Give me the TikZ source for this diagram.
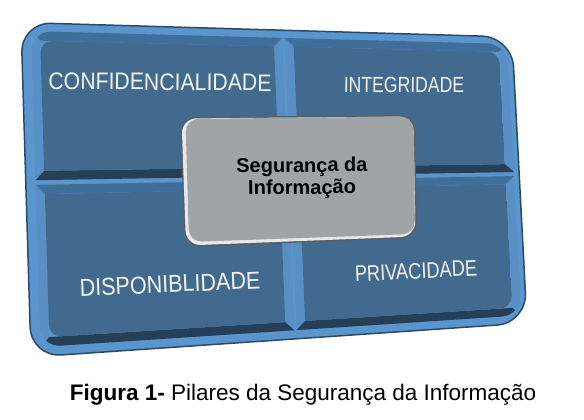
\documentclass[tikz,border=0pt]{standalone}
\usepackage{fontspec}
\setmainfont{Liberation Sans}
\usetikzlibrary{calc}

\definecolor{rimblue}{HTML}{5A95CD}
\definecolor{rimline}{HTML}{2C4A67}
\definecolor{faceblue}{HTML}{426A8F}
\definecolor{bevtop}{HTML}{3F6E9B}
\definecolor{bevside}{HTML}{5890C6}
\definecolor{bevbot}{HTML}{263F57}
\definecolor{boxgray}{HTML}{A0A4A7}
\definecolor{boxline}{HTML}{5B5E60}
\definecolor{boxlight}{HTML}{E6E8E9}

\begin{document}
\begin{tikzpicture}[x=1pt, y=-1pt,
    pillar/.style={text=white!95!black, inner sep=0pt,
                   font=\fontsize{#1}{#1}\selectfont},
    frameshape/.style={rounded corners=30}
  ]
  \useasboundingbox (0,0) rectangle (584,420);

  % corners of the tilted board
  \coordinate (TL) at (21,22.5);
  \coordinate (TR) at (512,37);
  \coordinate (BR) at (527,323);
  \coordinate (BL) at (31,357);

  % grid of tile and bevel corners
  \foreach \u [count=\i] in {0.02,0.038,0.514,0.532,0.536,0.554,0.972,0.99}
    \foreach \v [count=\j] in {0.025,0.053,0.444,0.472,0.486,0.514,0.944,0.972}
      \coordinate (g-\i-\j) at ($($(TL)!\u!(TR)$)!\v!($(BL)!\u!(BR)$)$);

  % shadow and rim
  \fill[black!7, frameshape, shift={(4,9)}] (TL) -- (TR) -- (BR) -- (BL) -- cycle;
  \fill[black!14, frameshape, shift={(2,5)}] (TL) -- (TR) -- (BR) -- (BL) -- cycle;
  \filldraw[fill=rimblue, draw=rimline, line width=1.5pt, frameshape]
    (TL) -- (TR) -- (BR) -- (BL) -- cycle;

  % the four tiles
  \begin{scope}
    \clip[rounded corners=20] (g-1-1) -- (g-8-1) -- (g-8-8) -- (g-1-8) -- cycle;
    \foreach \i/\ia/\ib/\ic in {1/2/3/4,5/6/7/8}
      \foreach \j/\ja/\jb/\jc in {1/2/3/4,5/6/7/8} {
        \fill[bevtop]  (g-\i-\j) -- (g-\ic-\j) -- (g-\ib-\ja) -- (g-\ia-\ja) -- cycle;
        \fill[bevside] (g-\i-\j) -- (g-\ia-\ja) -- (g-\ia-\jb) -- (g-\i-\jc) -- cycle;
        \fill[bevside] (g-\ic-\j) -- (g-\ic-\jc) -- (g-\ib-\jb) -- (g-\ib-\ja) -- cycle;
        \fill[bevbot]  (g-\i-\jc) -- (g-\ia-\jb) -- (g-\ib-\jb) -- (g-\ic-\jc) -- cycle;
      }
    \clip[rounded corners=12] (g-2-2) -- (g-7-2) -- (g-7-7) -- (g-2-7) -- cycle;
    \foreach \ia/\ib in {2/3,6/7}
      \foreach \ja/\jb in {2/3,6/7}
        \fill[faceblue] (g-\ia-\ja) -- (g-\ib-\ja) -- (g-\ib-\jb) -- (g-\ia-\jb) -- cycle;
  \end{scope}

  \node[pillar=24, rotate=-0.5, xscale=0.885] (conf) at (160,82) {CONFIDENCIALIDADE};
  \node[pillar=22, rotate=-0.5, xscale=0.80] (integ) at (404,85) {INTEGRIDADE};
  \node[pillar=24.5, rotate=2.5, xscale=0.88] (disp) at (170,284) {DISPONIBLIDADE};
  \node[pillar=22.5, rotate=2.8, xscale=0.81] (priv) at (416,271) {PRIVACIDADE};

  % centre box
  \fill[boxline, rounded corners=16] (180,117) -- (415,115) -- (417,238) -- (185,247) -- cycle;
  \fill[boxlight, rounded corners=15] (181.5,118.5) -- (413.5,116.5) -- (415.5,236.5) -- (186,245.5) -- cycle;
  \fill[boxgray, rounded corners=13] (185.5,119) -- (413.5,116.5) -- (415,234) -- (189,242) -- cycle;
  \node[font=\bfseries\fontsize{20}{22}\selectfont, align=center, rotate=0.5] (seg)
    at (302,178) {Segurança da\\Informação};

  \node[font=\fontsize{22.5}{27}\selectfont] (cap) at (303,395)
    {\textbf{Figura 1-} Pilares da Segurança da Informação};
\end{tikzpicture}
\end{document}
